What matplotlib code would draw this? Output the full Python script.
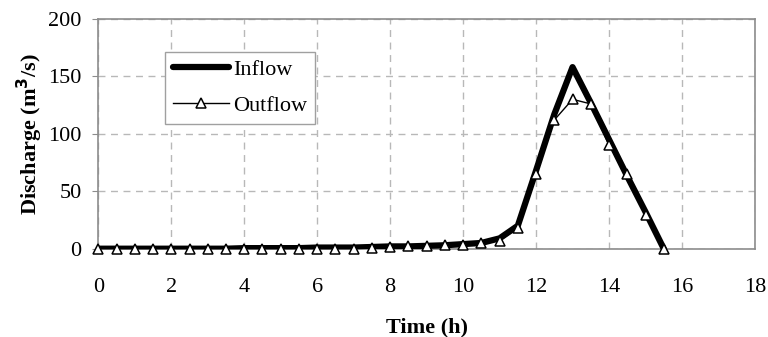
import matplotlib.pyplot as plt

plt.rcParams['font.family'] = ['Liberation Serif', 'DejaVu Serif']

time_h = [0, 0.5, 1, 1.5, 2, 2.5, 3, 3.5, 4, 4.5, 5, 5.5, 6, 6.5, 7, 7.5,
          8, 8.5, 9, 9.5, 10, 10.5, 11, 11.5, 12, 12.5, 13, 13.5, 14, 14.5,
          15, 15.5]
inflow = [0, 0, 0, 0, 0, 0, 0, 0, 0.5, 0.5, 0.5, 0.5, 1, 1, 1, 1.5,
          2, 2, 2.5, 3, 4, 5, 9, 20, 68, 117, 158, 127, 95, 63,
          32, 0]
outflow = [0, 0, 0, 0, 0, 0, 0, 0, 0, 0, 0, 0, 0, 0, 0, 0.5,
           1.5, 2, 2.5, 3, 3.5, 5, 7, 18, 65, 112, 130, 126, 90, 65,
           29, 0]

fig, ax = plt.subplots(figsize=(7.68, 3.37), dpi=100)
fig.subplots_adjust(left=0.128, right=0.983, top=0.944, bottom=0.262)

ax.plot(time_h, inflow, color='black', lw=4.5, solid_joinstyle='round',
        solid_capstyle='round', label='Inflow', zorder=3)
ax.plot(time_h, outflow, color='black', lw=1.0, marker='^', markersize=7.5,
        markerfacecolor='white', markeredgecolor='black', markeredgewidth=1.1,
        label='Outflow', zorder=4, clip_on=False)

ax.set_xlim(0, 18)
ax.set_ylim(0, 200)
ax.set_xticks(range(0, 19, 2))
ax.set_yticks(range(0, 201, 50))
ax.grid(True, color='#b8b8b8', linestyle=(0, (5, 4)), lw=1.0)
ax.set_axisbelow(True)
for s in ax.spines.values():
    s.set_color('#8c8c8c')
    s.set_linewidth(1.2)
ax.tick_params(axis='x', length=0, pad=21, labelsize=16)
ax.tick_params(axis='y', length=4, color='#8c8c8c', pad=8, labelsize=16)

ax.set_xlabel('Time (h)', fontsize=16, fontweight='bold', labelpad=15)
ax.set_ylabel('Discharge (m$^\\mathbf{3}$/s)', fontsize=16, fontweight='bold',
              labelpad=2)

leg = ax.legend(loc='upper left', bbox_to_anchor=(0.102, 0.857), fontsize=16,
                fancybox=False, edgecolor='#a0a0a0', framealpha=1,
                handlelength=2.5, handletextpad=0.2, borderpad=0.35,
                labelspacing=0.7, borderaxespad=0)
leg.get_frame().set_linewidth(1.0)

fig.savefig('out.png')
